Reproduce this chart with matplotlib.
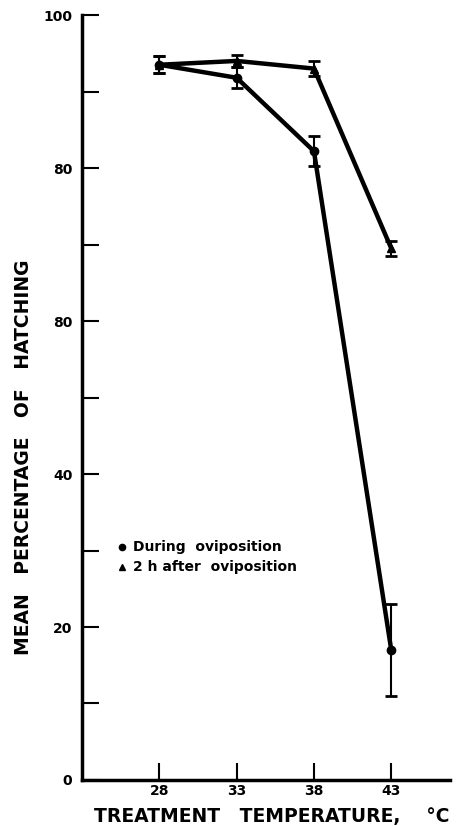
import numpy as np
import matplotlib
matplotlib.use("Agg")
import matplotlib.pyplot as plt

temps = [28, 33, 38, 43]
during = [93.5, 91.8, 82.2, 17.0]
during_err = [1.1, 1.4, 2.0, 6.0]
after = [93.5, 94.0, 93.0, 69.5]
after_err = [1.1, 0.8, 1.0, 1.0]

yticks = [0, 10, 20, 30, 40, 50, 60, 70, 80, 90, 100]
ytick_labels = ["0", "", "20", "", "40", "", "80", "", "80", "", "100"]
xticks = [28, 33, 38, 43]

plt.rcParams['font.family'] = ['DejaVu Sans']
fig = plt.figure(figsize=(4.67, 8.26), dpi=100)
ax = fig.add_axes([0.1756, 0.0557, 0.788, 0.9261])

ax.errorbar(temps, after, yerr=after_err, color="black", lw=3.2, marker="^",
            ms=6, capsize=4, elinewidth=1.5, capthick=2)
ax.errorbar(temps, during, yerr=during_err, color="black", lw=3.2, marker="o",
            ms=6, capsize=4, elinewidth=1.5, capthick=2)

ax.set_xlim(23, 46.8)
ax.set_ylim(0, 100)
ax.set_yticks(yticks)
ax.set_yticklabels(ytick_labels, fontweight="bold", fontsize=10)
ax.set_xticks(xticks)
ax.set_xticklabels([str(t) for t in xticks], fontweight="bold", fontsize=10)
ax.tick_params(axis="both", direction="in", length=12, width=1.5)
ax.tick_params(axis="y", pad=7)
ax.tick_params(axis="x", pad=3)

for s in ["top", "right"]:
    ax.spines[s].set_visible(False)
for s in ["left", "bottom"]:
    ax.spines[s].set_linewidth(2.5)
ax.spines["left"].set_bounds(0, 100)

ax.set_ylabel("MEAN   PERCENTAGE   OF   HATCHING", fontweight="bold", fontsize=13.5)
ax.yaxis.set_label_coords(-0.133, 0.422)
ax.set_xlabel("TREATMENT   TEMPERATURE,    °C", fontweight="bold", fontsize=13.5)
ax.xaxis.set_label_coords(0.515, -0.035)

# legend drawn as markers + text
ax.plot([25.6], [30.5], marker="o", color="black", ms=4.5, ls="none")
ax.plot([25.6], [27.8], marker="^", color="black", ms=4.5, ls="none")
ax.text(26.3, 30.5, "During  oviposition", va="center", fontsize=10, fontweight="bold")
ax.text(26.3, 27.8, "2 h after  oviposition", va="center", fontsize=10, fontweight="bold")

fig.savefig("out.png", dpi=100)
